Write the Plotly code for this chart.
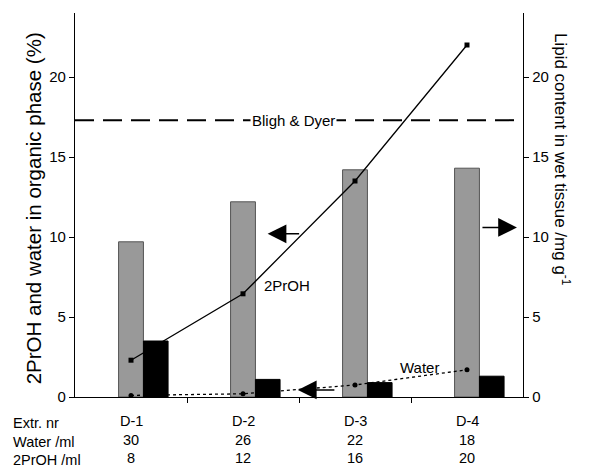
import plotly.graph_objects as go

categories = ["D-1", "D-2", "D-3", "D-4"]
water_ml = [30, 26, 22, 18]
propanol_ml = [8, 12, 16, 20]
lipid_gray = [9.7, 12.2, 14.2, 14.3]
lipid_black = [3.5, 1.1, 0.9, 1.3]
propanol_pct = [2.3, 6.45, 13.5, 22.0]
water_pct = [0.1, 0.2, 0.75, 1.7]
bligh_dyer = 17.3

FONT = "Arial, Liberation Sans, sans-serif"
xs = list(range(len(categories)))

fig = go.Figure()
fig.add_trace(go.Bar(x=xs, y=lipid_gray, width=0.222, offset=-0.111,
                     marker=dict(color="#999999", line=dict(color="#555555", width=1)),
                     yaxis="y", showlegend=False))
fig.add_trace(go.Bar(x=xs, y=lipid_black, width=0.22, offset=0.111,
                     marker=dict(color="#000000", line=dict(color="#000000", width=1)),
                     yaxis="y", showlegend=False))
fig.add_trace(go.Scatter(x=xs, y=propanol_pct, mode="lines+markers",
                         line=dict(color="black", width=1.3),
                         marker=dict(symbol="square", size=5, color="black"),
                         yaxis="y2", showlegend=False))
fig.add_trace(go.Scatter(x=xs, y=water_pct, mode="lines+markers",
                         line=dict(color="black", width=1.3, dash="dot"),
                         marker=dict(symbol="circle", size=5, color="black"),
                         yaxis="y2", showlegend=False))

fig.add_shape(type="line", xref="paper", x0=0, x1=1, yref="y", y0=bligh_dyer, y1=bligh_dyer,
              line=dict(color="black", width=2, dash="19px,9px"))

ann = []
ann.append(dict(x=1.45, y=bligh_dyer, xref="x", yref="y", text="Bligh & Dyer", showarrow=False,
                bgcolor="white", font=dict(size=15, color="black", family=FONT)))
ann.append(dict(x=1.39, y=7.0, xref="x", yref="y", text="2PrOH", showarrow=False,
                font=dict(size=15, color="black", family=FONT)))
ann.append(dict(x=2.58, y=1.85, xref="x", yref="y", text="Water", showarrow=False,
                font=dict(size=15, color="black", family=FONT)))
# arrows
arrow = dict(showarrow=True, arrowhead=2, arrowsize=2.5, arrowwidth=1.5, arrowcolor="black",
             text=" ", xref="x", yref="y", ay=0)
ann.append(dict(arrow, x=1.22, y=10.2, ax=35))
ann.append(dict(arrow, x=3.446, y=10.6, ax=-38))
ann.append(dict(arrow, x=1.49, y=0.44, ax=40))

# axis titles
ann.append(dict(x=0, y=0.49, xref="paper", yref="paper", xshift=-55, textangle=-90,
                text="2PrOH and water in organic phase (%)", showarrow=False,
                font=dict(size=20.5, color="black", family=FONT)))
ann.append(dict(x=1, y=0.62, xref="paper", yref="paper", xshift=52, textangle=90,
                text="Lipid content in wet tissue /mg g<sup>-1</sup>", showarrow=False,
                font=dict(size=17, color="black", family=FONT)))

# table below
row_labels = ["Extr. nr", "Water /ml", "2PrOH /ml"]
rows = [categories, water_ml, propanol_ml]
row_y = [-26, -45, -63]
for lab, vals, dy in zip(row_labels, rows, row_y):
    ann.append(dict(x=0, y=0, xref="paper", yref="paper", xshift=-64, yshift=dy,
                    xanchor="left", yanchor="middle", text=lab, showarrow=False,
                    font=dict(size=14.5, color="black", family=FONT)))
    for xi, v in zip(xs, vals):
        ann.append(dict(x=xi, y=0, xref="x", yref="paper", yshift=dy + 2, yanchor="middle",
                        text=str(v), showarrow=False,
                        font=dict(size=14.5, color="black", family=FONT)))

fig.update_layout(
    width=592, height=469,
    margin=dict(l=75, r=69, t=13, b=72),
    plot_bgcolor="white", paper_bgcolor="white",
    barmode="overlay",
    font=dict(family=FONT, size=14, color="black"),
    annotations=ann,
    xaxis=dict(range=[-0.5, 3.5], tickvals=[0.5, 1.5, 2.5], ticktext=["", "", ""],
               ticks="outside", ticklen=5, tickcolor="black", showline=True,
               linecolor="black", linewidth=1, showgrid=False, zeroline=False, fixedrange=True),
    yaxis=dict(range=[0, 24], tickvals=[0, 5, 10, 15, 20], ticks="outside", ticklen=5,
               tickcolor="black", showline=True, linecolor="black", linewidth=1.3,
               showgrid=False, zeroline=False, tickfont=dict(size=15)),
    yaxis2=dict(range=[0, 24], tickvals=[0, 5, 10, 15, 20], ticks="outside", ticklen=5,
                tickcolor="black", showline=True, linecolor="black", linewidth=1.3,
                showgrid=False, zeroline=False, overlaying="y", side="right",
                tickfont=dict(size=15)),
)

fig.write_html("out.html")
